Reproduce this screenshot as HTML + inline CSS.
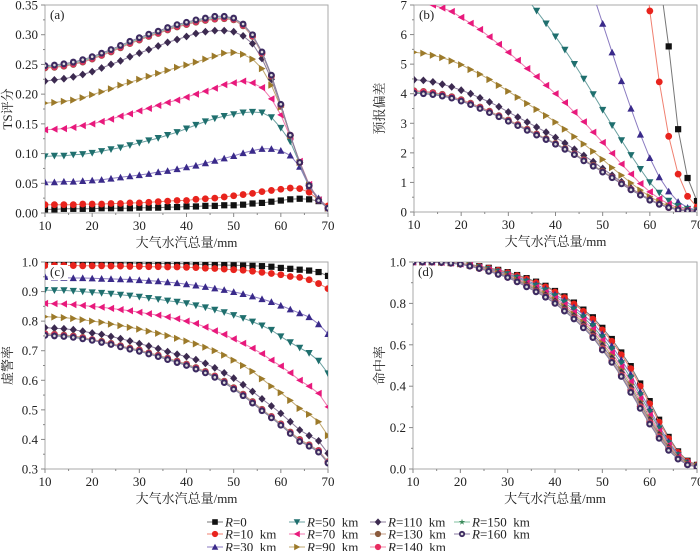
<!DOCTYPE html>
<html><head><meta charset="utf-8">
<style>
html,body{margin:0;padding:0;background:#fff;}
svg{display:block;font-family:"Liberation Serif","Noto Serif CJK SC",serif;}
</style></head>
<body>
<svg id="chart" width="700" height="551" viewBox="0 0 700 551"></svg>
<script>
const xs=[10,12,14,16,18,20,22,24,26,28,30,32,34,36,38,40,42,44,46,48,50,52,54,56,58,60,62,64,66,68,70];
const seriesNames=["R=0","R=10 km","R=30 km","R=50 km","R=70 km","R=90 km","R=110 km","R=130 km","R=140 km","R=150 km","R=160 km"];
const xTicks=[10,20,30,40,50,60,70];
const tsTicks=[0,0.05,0.10,0.15,0.20,0.25,0.30,0.35];
const biasTicks=[0,1,2,3,4,5,6,7];
const farTicks=[0.3,0.4,0.5,0.6,0.7,0.8,0.9,1.0];
const hitTicks=[0,0.2,0.4,0.6,0.8,1.0];

const ts0=[.006,.006,.007,.007,.007,.007,.008,.008,.008,.008,.009,.009,.009,.010,.010,.011,.011,.012,.012,.013,.013,.014,.016,.017,.019,.021,.023,.024,.023,.020,.010];
const ts10=[.014,.014,.014,.014,.015,.015,.015,.016,.016,.017,.017,.018,.019,.020,.021,.021,.023,.024,.025,.027,.029,.031,.033,.036,.038,.040,.042,.041,.035,.022,.012];
const ts30=[.052,.052,.053,.053,.054,.055,.056,.058,.060,.062,.064,.066,.069,.071,.074,.077,.080,.084,.088,.092,.096,.101,.105,.108,.108,.105,.097,.078,.045,.025,.008];
const ts50=[.095,.096,.096,.098,.099,.101,.104,.107,.110,.114,.118,.122,.126,.131,.136,.142,.148,.154,.159,.163,.166,.169,.170,.169,.161,.143,.120,.083,.045,.022,.008];
const ts70=[.140,.141,.142,.144,.147,.150,.154,.158,.163,.167,.172,.176,.181,.186,.190,.195,.200,.205,.210,.216,.219,.222,.219,.211,.192,.165,.128,.087,.048,.022,.008];
const ts90=[.185,.186,.188,.190,.194,.199,.204,.209,.215,.220,.225,.230,.235,.240,.245,.249,.254,.259,.264,.269,.270,.267,.259,.243,.215,.178,.130,.085,.047,.022,.008];
const ts110=[.222,.224,.226,.229,.233,.238,.244,.250,.256,.263,.269,.275,.281,.287,.292,.297,.302,.305,.307,.307,.305,.298,.285,.260,.225,.180,.130,.085,.047,.022,.008];
const ts130=[.244,.245,.247,.250,.254,.259,.265,.271,.278,.285,.291,.297,.302,.308,.313,.317,.321,.324,.326,.327,.325,.315,.297,.268,.230,.181,.130,.085,.046,.021,.008];
const ts140=[.245,.246,.248,.251,.255,.260,.266,.272,.279,.286,.292,.298,.303,.309,.314,.318,.322,.325,.327,.328,.326,.316,.298,.269,.231,.182,.131,.085,.046,.021,.008];
const ts150=[.246,.247,.249,.252,.256,.261,.267,.273,.280,.287,.293,.299,.304,.310,.315,.319,.323,.326,.328,.329,.327,.317,.299,.270,.231,.182,.131,.085,.046,.021,.008];
const ts160=[.248,.249,.251,.254,.258,.263,.269,.275,.282,.289,.295,.301,.306,.312,.317,.321,.325,.328,.331,.331,.328,.318,.300,.271,.232,.183,.131,.085,.046,.021,.008];

const bias0=[40,38,36,34,32,30,28,26,24,22,20,19,18,17,16,15,14,13,12.5,12,11.5,11,10.5,10,9.5,9,8,5.6,2.8,1.15,.37];
const bias10=[30,29,28,27,26,25,24,23,22,21,20,19,18,17,16,15,14.5,14,13.5,13,12.5,12,11.5,11,10,6.8,4.4,2.56,1.28,.53,.17];
const bias30=[16,16,15.8,15.6,15.4,15.2,15,14.7,14.4,14,13.6,13.1,12.6,12,11.3,10.6,9.9,9.1,8.3,7.35,6.37,5.4,4.43,3.5,2.62,1.83,1.18,.70,.35,.15,.06];
const bias50=[10.2,10.1,10.0,9.9,9.7,9.5,9.3,9.0,8.7,8.4,8.0,7.6,7.2,6.8,6.37,5.93,5.48,5.0,4.5,3.98,3.45,2.93,2.42,1.92,1.45,1.0,.65,.38,.20,.10,.05];
const bias70=[7.3,7.15,7.0,6.9,6.78,6.58,6.38,6.17,5.92,5.67,5.40,5.13,4.85,4.58,4.28,4.0,3.7,3.37,3.05,2.7,2.35,1.98,1.62,1.28,.96,.68,.45,.27,.14,.07,.03];
const bias90=[5.40,5.37,5.30,5.22,5.11,4.98,4.82,4.66,4.48,4.28,4.08,3.88,3.67,3.47,3.26,3.04,2.80,2.55,2.30,2.05,1.78,1.50,1.24,.98,.74,.52,.34,.20,.10,.05,.02];
const bias110=[4.47,4.45,4.40,4.32,4.23,4.12,4.00,3.86,3.72,3.56,3.38,3.21,3.04,2.87,2.70,2.52,2.33,2.12,1.91,1.70,1.47,1.24,1.02,.80,.61,.43,.28,.16,.08,.04,.02];
const bias130=[4.10,4.08,4.04,3.98,3.90,3.80,3.68,3.55,3.41,3.26,3.11,2.96,2.80,2.64,2.48,2.32,2.15,1.97,1.77,1.58,1.38,1.18,.97,.77,.58,.41,.27,.15,.07,.04,.02];
const bias140=[4.08,4.06,4.02,3.96,3.88,3.78,3.66,3.53,3.39,3.24,3.09,2.94,2.78,2.62,2.46,2.30,2.13,1.95,1.75,1.56,1.36,1.17,.96,.76,.58,.41,.27,.15,.07,.04,.02];
const bias150=[4.05,4.03,4.00,3.94,3.86,3.76,3.64,3.51,3.37,3.23,3.08,2.93,2.77,2.61,2.46,2.30,2.13,1.95,1.74,1.56,1.36,1.16,.95,.75,.57,.40,.26,.15,.07,.04,.02];
const bias160=[4.02,4.00,3.97,3.92,3.85,3.75,3.63,3.50,3.36,3.22,3.07,2.92,2.76,2.60,2.45,2.29,2.12,1.94,1.73,1.55,1.35,1.16,.95,.75,.57,.40,.26,.15,.07,.04,.02];

const far0=[.999,.999,.999,.999,.999,.998,.998,.998,.997,.997,.996,.996,.995,.995,.995,.994,.993,.992,.991,.990,.989,.988,.987,.986,.984,.980,.977,.974,.971,.966,.953];
const far10=[.988,.988,.988,.988,.987,.987,.987,.986,.986,.985,.985,.984,.984,.983,.983,.982,.981,.979,.978,.976,.974,.972,.969,.965,.961,.957,.951,.948,.940,.927,.910];
const far30=[.950,.948,.947,.946,.946,.945,.944,.943,.942,.941,.939,.937,.935,.932,.929,.925,.921,.916,.911,.906,.899,.892,.884,.875,.865,.853,.840,.827,.814,.790,.757];
const far50=[.905,.904,.904,.902,.900,.897,.895,.892,.889,.886,.882,.878,.874,.869,.865,.860,.853,.846,.838,.830,.820,.810,.798,.785,.770,.748,.728,.710,.692,.666,.623];
const far70=[.860,.859,.858,.856,.853,.850,.847,.843,.839,.835,.830,.825,.820,.814,.808,.800,.792,.780,.767,.755,.740,.725,.708,.690,.668,.648,.625,.600,.580,.556,.510];
const far90=[.815,.814,.812,.809,.805,.800,.796,.790,.785,.779,.773,.766,.759,.751,.742,.733,.723,.712,.700,.685,.668,.650,.630,.605,.580,.558,.532,.505,.485,.460,.413];
const far110=[.778,.776,.774,.771,.766,.760,.755,.748,.741,.733,.724,.716,.707,.697,.688,.680,.670,.657,.642,.625,.607,.585,.562,.537,.513,.488,.460,.432,.413,.395,.353];
const far130=[.758,.756,.753,.750,.745,.738,.732,.725,.717,.709,.703,.693,.685,.675,.665,.655,.643,.630,.615,.597,.575,.553,.528,.502,.478,.453,.425,.400,.382,.363,.325];
const far140=[.756,.754,.751,.748,.743,.737,.730,.723,.715,.707,.701,.691,.683,.673,.663,.653,.641,.628,.613,.595,.573,.551,.526,.500,.476,.451,.423,.397,.380,.361,.323];
const far150=[.754,.752,.750,.747,.742,.736,.729,.722,.714,.706,.700,.690,.682,.672,.662,.652,.640,.627,.612,.594,.572,.550,.525,.499,.475,.450,.422,.395,.379,.359,.322];
const far160=[.752,.750,.748,.745,.740,.735,.728,.721,.713,.705,.698,.689,.680,.670,.660,.650,.638,.625,.610,.592,.570,.548,.523,.497,.473,.448,.420,.393,.377,.357,.320];

const hit0=[1,1,1,.999,.997,.993,.988,.980,.972,.962,.951,.937,.922,.905,.885,.86,.834,.804,.77,.733,.682,.628,.563,.497,.413,.328,.238,.155,.085,.04,.02];
const hit10=[1,1,1,.999,.997,.993,.987,.979,.970,.960,.948,.934,.918,.900,.880,.855,.828,.797,.762,.724,.672,.617,.552,.485,.400,.315,.227,.147,.080,.037,.019];
const hit30=[1,1,1,.999,.996,.992,.986,.977,.967,.956,.943,.928,.911,.892,.870,.843,.815,.782,.745,.705,.652,.595,.528,.458,.373,.290,.207,.133,.071,.033,.017];
const hit50=[1,1,1,.998,.996,.992,.985,.976,.965,.953,.940,.923,.905,.885,.862,.834,.804,.770,.732,.690,.636,.578,.510,.440,.356,.275,.195,.124,.066,.030,.015];
const hit70=[1,1,1,.998,.995,.991,.984,.974,.962,.950,.936,.918,.899,.878,.854,.825,.794,.758,.720,.676,.622,.562,.493,.422,.340,.260,.183,.116,.061,.028,.014];
const hit90=[1,1,1,.998,.995,.991,.983,.973,.960,.947,.933,.914,.894,.872,.847,.817,.785,.748,.708,.664,.608,.548,.479,.407,.326,.248,.174,.110,.057,.026,.013];
const hit110=[1,1,1,.998,.995,.990,.982,.971,.958,.944,.930,.910,.889,.866,.840,.810,.777,.739,.698,.652,.596,.535,.466,.394,.314,.237,.165,.103,.054,.024,.012];
const hit130=[1,1,1,.998,.994,.990,.981,.970,.956,.941,.927,.906,.884,.860,.834,.803,.769,.731,.689,.642,.585,.524,.455,.382,.304,.228,.158,.097,.051,.022,.011];
const hit140=[1,1,1,.998,.994,.990,.981,.969,.956,.941,.926,.905,.882,.858,.832,.801,.766,.728,.686,.639,.580,.520,.451,.377,.299,.223,.153,.094,.050,.021,.011];
const hit150=[1,1,1,.998,.994,.990,.980,.969,.955,.940,.926,.904,.881,.857,.831,.800,.765,.727,.684,.637,.578,.518,.449,.374,.296,.220,.150,.092,.049,.021,.010];
const hit160=[1,1,1,.998,.994,.990,.980,.969,.955,.940,.925,.904,.880,.856,.830,.800,.763,.725,.682,.635,.575,.515,.447,.370,.293,.217,.148,.090,.048,.020,.010];

const NS='http://www.w3.org/2000/svg';
const svg=document.getElementById('chart');
const colors=['#111111','#e8231d','#3a2a8a','#1f6f6e','#e8197c','#9c7a2a','#3c2a50','#8b5a3c','#e82c60','#3a8a5a','#3c2a60'];
const lineColors=['#777','#f08070','#8a7ac0','#6aa0a0','#f07ab0','#c0a870','#8a7a9a','#c09a80','#f080a0','#80c0a0','#8a7aa0'];
const shapes=['square','circle','up','down','left','right','diamond','hex','circle','star','ocircle'];

function mk(tag,attrs,parent){const e=document.createElementNS(NS,tag);for(const k in attrs)e.setAttribute(k,attrs[k]);(parent||svg).appendChild(e);return e;}

function marker(g,shape,cx,cy,c,s){
  s=s||3.1;let e;
  if(shape==='square') e=mk('rect',{x:cx-s,y:cy-s,width:2*s,height:2*s,fill:c},g);
  else if(shape==='circle'||shape==='hex') e=mk('circle',{cx:cx,cy:cy,r:s+0.3,fill:c},g);
  else if(shape==='ocircle'){e=mk('circle',{cx:cx,cy:cy,r:s+0.3,fill:c},g);mk('circle',{cx:cx,cy:cy,r:1.3,fill:'#ddd'},g);}
  else{
    let p;
    if(shape==='up')p=[[0,-s-.5],[s+.5,s],[-s-.5,s]];
    else if(shape==='down')p=[[0,s+.5],[s+.5,-s],[-s-.5,-s]];
    else if(shape==='left')p=[[-s-.5,0],[s,-s-.5],[s,s+.5]];
    else if(shape==='right')p=[[s+.5,0],[-s,-s-.5],[-s,s+.5]];
    else if(shape==='diamond')p=[[0,-s-.8],[s+.5,0],[0,s+.8],[-s-.5,0]];
    else {p=[];for(let i=0;i<10;i++){const r=i%2?s*0.45:s+.5;const a=-Math.PI/2+i*Math.PI/5;p.push([r*Math.cos(a),r*Math.sin(a)]);}}
    e=mk('polygon',{points:p.map(q=>(cx+q[0]).toFixed(1)+','+(cy+q[1]).toFixed(1)).join(' '),fill:c},g);
  }
  return e;
}

function panel(o){
  const g=mk('g',{});
  
  
  const X=v=>o.x0+(v-10)/60*(o.x1-o.x0);
  const Y=v=>o.yb-(v-o.ymin)/(o.ymax-o.ymin)*(o.yb-o.yt);
  const cid='clip-'+o.name;
  const cp=mk('clipPath',{id:cid},g);mk('rect',{x:o.x0,y:o.yt,width:o.x1-o.x0,height:o.yb-o.yt},cp);
  const fr=mk('rect',{x:o.x0,y:o.yt,width:o.x1-o.x0,height:o.yb-o.yt,fill:'none',stroke:'#aaa','stroke-width':1},g);
  
  
  o.yticks.forEach((t,i)=>{
    const y=Y(t);
    mk('line',{x1:o.x0-4,x2:o.x0,y1:y,y2:y,stroke:'#888'},g);
    if(i<o.yticks.length-1){const ym=Y((t+o.yticks[i+1])/2);mk('line',{x1:o.x0-2,x2:o.x0,y1:ym,y2:ym,stroke:'#888'},g);}
    const tx=mk('text',{x:o.x0-7,y:y+4.5,'text-anchor':'end','font-size':13,fill:'#222'},g);
    tx.textContent=o.fmt(t);
    
    
  });
  xTicks.forEach((t,i)=>{
    const x=X(t);
    mk('line',{x1:x,x2:x,y1:o.yb,y2:o.yb+4,stroke:'#888'},g);
    if(i<xTicks.length-1){const xm=X(t+5);mk('line',{x1:xm,x2:xm,y1:o.yb,y2:o.yb+2,stroke:'#888'},g);}
    const tx=mk('text',{x:x,y:o.yb+17,'text-anchor':'middle','font-size':13,fill:'#222'},g);
    tx.textContent=t;
    
    
  });
  const xt=mk('text',{x:(o.x0+o.x1)/2,y:o.yb+34,'text-anchor':'middle','font-size':13,fill:'#222'},g);
  xt.textContent='大气水汽总量/mm';
  
  
  const yc=(o.yt+o.yb)/2;
  const yt=mk('text',{x:o.ytx,y:yc,'text-anchor':'middle','font-size':13,fill:'#222',transform:'rotate(-90 '+o.ytx+' '+yc+')'},g);
  yt.textContent=o.ytitle;
  
  
  const plot=mk('g',{'clip-path':'url(#'+cid+')'},g);
  o.data.forEach((arr,si)=>{
    const sg=mk('g',{},plot);
    
    
    const pts=arr.map((v,i)=>X(xs[i]).toFixed(1)+','+Y(v).toFixed(1)).join(' ');
    const ln=mk('polyline',{points:pts,fill:'none',stroke:lineColors[si],'stroke-width':1},sg);
    
    
    arr.forEach((v,i)=>{
      const m=marker(sg,shapes[si],X(xs[i]),Y(v),colors[si]);
      
      
    });
  });
  if(o.labelBg){
    mk('rect',{x:o.x0+3,y:o.yt+3,width:20,height:15,fill:'#fff'},g);
  }
  const pl=mk('text',{x:o.x0+5,y:o.yt+14,'font-size':13,fill:'#222'},g);
  pl.textContent=o.label;
  
  
}

panel({name:'panel-a-ts',label:'(a)',x0:45,x1:328,yt:5,yb:213,ymin:0,ymax:0.35,yticks:tsTicks,fmt:v=>v.toFixed(2),ytitle:'TS评分',ytx:12,
  data:[ts0,ts10,ts30,ts50,ts70,ts90,ts110,ts130,ts140,ts150,ts160]});
panel({name:'panel-b-bias',label:'(b)',x0:414,x1:697,yt:5,yb:212,ymin:0,ymax:7,yticks:biasTicks,fmt:v=>String(v),ytitle:'预报偏差',ytx:384,
  data:[bias0,bias10,bias30,bias50,bias70,bias90,bias110,bias130,bias140,bias150,bias160]});
panel({name:'panel-c-far',label:'(c)',labelBg:true,x0:45,x1:328,yt:262,yb:469,ymin:0.3,ymax:1.0,yticks:farTicks,fmt:v=>v.toFixed(1),ytitle:'虚警率',ytx:12,
  data:[far0,far10,far30,far50,far70,far90,far110,far130,far140,far150,far160]});
panel({name:'panel-d-hit',label:'(d)',x0:413,x1:697,yt:262,yb:469,ymin:0,ymax:1.0,yticks:hitTicks,fmt:v=>v.toFixed(1),ytitle:'命中率',ytx:384,
  data:[hit0,hit10,hit30,hit50,hit70,hit90,hit110,hit130,hit140,hit150,hit160]});

const lg=mk('g',{});


const colX=[215,297,378,462];
const rowY=[522,534,547];
const order=[[0,0],[1,0],[2,0],[0,1],[1,1],[2,1],[0,2],[1,2],[2,2],[0,3],[1,3]];
order.forEach((rc,si)=>{
  const cx=colX[rc[1]],cy=rowY[rc[0]];
  const e=mk('g',{},lg);
  
  
  mk('line',{x1:cx-8,x2:cx+8,y1:cy,y2:cy,stroke:lineColors[si],'stroke-width':1},e);
  marker(e,shapes[si],cx,cy,colors[si],2.8);
  const t=mk('text',{x:cx+10,y:cy+4.5,'font-size':13,fill:'#222'},e);
  const parts=seriesNames[si].split('=');
  const it=mk('tspan',{'font-style':'italic'},t);it.textContent='R';
  const rest=mk('tspan',{},t);rest.textContent='='+parts[1].replace(' km','\u00a0\u00a0km');
});
</script>
</body></html>
